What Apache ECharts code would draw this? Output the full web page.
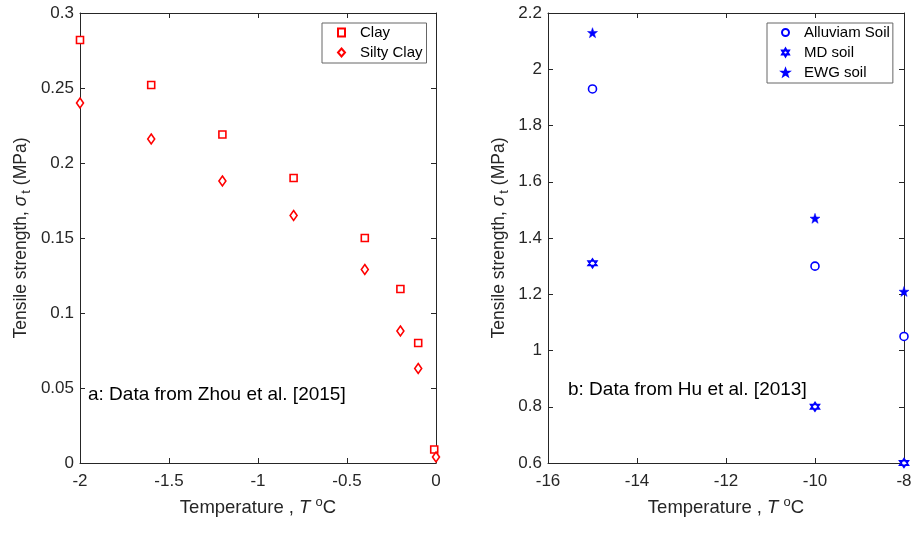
<!DOCTYPE html>
<html>
<head>
<meta charset="utf-8">
<script src="https://cdn.jsdelivr.net/npm/echarts@6/dist/echarts.min.js"></script>
<style>
html,body{margin:0;padding:0;background:#fff;}
#c{width:915px;height:544px;}
</style>
</head>
<body>
<div id="c"></div>
<script>
// Panel a: Zhou et al. [2015]
const tempA = [-2, -1.6, -1.2, -0.8, -0.4, -0.2, -0.1, -0.01];
const tempA2 = [-2, -1.6, -1.2, -0.8, -0.4, -0.2, -0.1, 0];
const clay = [0.282, 0.252, 0.219, 0.19, 0.15, 0.116, 0.08, 0.009];
const siltyClay = [0.24, 0.216, 0.188, 0.165, 0.129, 0.088, 0.063, 0.004];
// Panel b: Hu et al. [2013]
const tempB = [-15, -10, -8];
const alluviam = [1.93, 1.30, 1.05];
const mdSoil = [1.31, 0.80, 0.60];
const ewgSoil = [2.13, 1.47, 1.21];

const xTicksA = {min: -2, max: 0, interval: 0.5};
const yTicksA = {min: 0, max: 0.3, interval: 0.05};
const xTicksB = {min: -16, max: -8, interval: 2};
const yTicksB = {min: 0.6, max: 2.2, interval: 0.2};

const FONT = 'Liberation Sans, Arial, sans-serif';
const AX = '#262626';
const RED = '#ff0000';
const BLUE = '#0000ff';

const starPath = 'path://M0,-10 L2.35,-3.24 L9.51,-3.09 L3.8,1.24 L5.88,8.09 L0,4 L-5.88,8.09 L-3.8,1.24 L-9.51,-3.09 L-2.35,-3.24 Z';
const hexPath = 'path://M0,-10 L8.66,5 L-8.66,5 Z M0,10 L-8.66,-5 L8.66,-5 Z';

function zip(xs, ys){ return xs.map((x,i)=>[x, ys[i]]); }

function mainAxis(t, pos, gridIndex, name, isY){
  return {
    type: 'value', gridIndex: gridIndex, position: pos,
    min: t.min, max: t.max, interval: t.interval,
    axisLine: {show: true, onZero: false, lineStyle: {color: AX, width: 1}},
    axisTick: {show: true, inside: true, length: 5, lineStyle: {color: AX}},
    axisLabel: {show: true, color: AX, fontFamily: FONT, fontSize: 17, margin: isY ? 6 : 10},
    splitLine: {show: false},
    name: name, nameLocation: 'middle'
  };
}
function mirrorAxis(t, pos, gridIndex){
  return {
    type: 'value', gridIndex: gridIndex, position: pos,
    min: t.min, max: t.max, interval: t.interval,
    axisLine: {show: true, onZero: false, lineStyle: {color: AX, width: 1}},
    axisTick: {show: true, inside: true, length: 5, lineStyle: {color: AX}},
    axisLabel: {show: false},
    splitLine: {show: false}
  };
}

const xName = '{a|Temperature , }{i|T }{s|o}{a|C}';
const xNameRich = {
  a: {fontFamily: FONT, fontSize: 18.5, color: AX},
  i: {fontFamily: FONT, fontSize: 18.5, color: AX, fontStyle: 'italic'},
  s: {fontFamily: FONT, fontSize: 13, color: AX, padding: [0, 0, 10, 0]}
};
const yName = '{a|Tensile strength, }{i|σ}{b|t}{a| (MPa)}';
const yNameRich = {
  a: {fontFamily: FONT, fontSize: 17.5, color: AX},
  i: {fontFamily: FONT, fontSize: 17.5, color: AX, fontStyle: 'italic'},
  b: {fontFamily: FONT, fontSize: 13, color: AX, padding: [10, 0, 0, 2]}
};

const xa0 = mainAxis(xTicksA, 'bottom', 0, xName, false);
xa0.nameGap = 33; xa0.nameTextStyle = {rich: xNameRich};
const xb0 = mainAxis(xTicksB, 'bottom', 1, xName, false);
xb0.nameGap = 33; xb0.nameTextStyle = {rich: xNameRich};
const ya0 = mainAxis(yTicksA, 'left', 0, yName, true);
ya0.nameGap = 47; ya0.nameTextStyle = {rich: yNameRich};
const yb0 = mainAxis(yTicksB, 'left', 1, yName, true);
yb0.nameGap = 37; yb0.nameTextStyle = {rich: yNameRich};

const legendCommon = {
  orient: 'vertical',
  backgroundColor: '#fff',
  borderColor: '#666',
  borderWidth: 1,
  itemWidth: 7,
  itemHeight: 8,
  itemGap: 5,
  textStyle: {fontFamily: FONT, fontSize: 15, color: '#000', padding: [0, 0, 0, 10]}
};

const option = {
  animation: false,
  backgroundColor: '#fff',
  grid: [
    {left: 80, top: 13, width: 356, height: 450, containLabel: false},
    {left: 548, top: 13, width: 356, height: 450, containLabel: false}
  ],
  xAxis: [xa0, xb0, mirrorAxis(xTicksA, 'top', 0), mirrorAxis(xTicksB, 'top', 1)],
  yAxis: [ya0, yb0, mirrorAxis(yTicksA, 'right', 0), mirrorAxis(yTicksB, 'right', 1)],
  legend: [
    Object.assign({}, legendCommon, {data: ['Clay', 'Silty Clay'], left: 322, top: 23, padding: [2, 4, 3, 15]}),
    Object.assign({}, legendCommon, {data: ['Alluviam Soil', 'MD soil', 'EWG soil'], left: 767, top: 23, padding: [2, 3, 3, 14]})
  ],
  graphic: [
    {type: 'text', left: 88, top: 385, style: {text: 'a: Data from Zhou et al. [2015]', font: '19px ' + FONT, fill: '#000'}},
    {type: 'text', left: 568, top: 380, style: {text: 'b: Data from Hu et al. [2013]', font: '19px ' + FONT, fill: '#000'}}
  ],
  series: [
    {name: 'Clay', type: 'scatter', xAxisIndex: 0, yAxisIndex: 0, clip: false,
     symbol: 'rect', symbolSize: 7,
     itemStyle: {color: '#fff', borderColor: RED, borderWidth: 1.6, opacity: 1},
     data: zip(tempA, clay)},
    {name: 'Silty Clay', type: 'scatter', xAxisIndex: 0, yAxisIndex: 0, clip: false,
     symbol: 'diamond', symbolSize: [7, 10],
     itemStyle: {color: '#fff', borderColor: RED, borderWidth: 1.6, opacity: 1},
     data: zip(tempA2, siltyClay)},
    {name: 'Alluviam Soil', type: 'scatter', xAxisIndex: 1, yAxisIndex: 1, clip: false,
     symbol: 'circle', symbolSize: 8,
     itemStyle: {color: '#fff', borderColor: BLUE, borderWidth: 1.6, opacity: 1},
     data: zip(tempB, alluviam)},
    {name: 'MD soil', type: 'scatter', xAxisIndex: 1, yAxisIndex: 1, clip: false,
     symbol: hexPath, symbolSize: 9,
     itemStyle: {color: '#fff', borderColor: BLUE, borderWidth: 1.5, opacity: 1},
     data: zip(tempB, mdSoil)},
    {name: 'EWG soil', type: 'scatter', xAxisIndex: 1, yAxisIndex: 1, clip: false,
     symbol: starPath, symbolSize: 10,
     itemStyle: {color: BLUE, borderColor: BLUE, borderWidth: 0.5, opacity: 1},
     data: zip(tempB, ewgSoil)}
  ]
};

const chart = echarts.init(document.getElementById('c'), null, {renderer: 'canvas'});
chart.setOption(option);
</script>
</body>
</html>
